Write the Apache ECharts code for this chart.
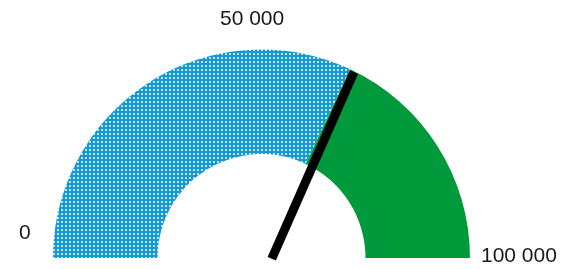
<!DOCTYPE html>
<html>
<head>
<meta charset="utf-8">
<script src="https://cdn.jsdelivr.net/npm/echarts@6/dist/echarts.min.js"></script>
<style>
    html,body{margin:0;padding:0;background:#fff;}
    #main{width:563px;height:269px;}
</style>
</head>
<body>
<div id="main"></div>
<script>
// 数据
var bandNames = ["低", "高"];
var bandValues = [64000, 36000];
var needleValue = 63200;
var axisMin = 0, axisMax = 100000;
var tickLabels = ["0", "50 000", "100 000"];

// 蓝色点状填充
function dotPattern(){
    var c = document.createElement("canvas");
    c.width = 4; c.height = 4;
    var ctx = c.getContext("2d");
    ctx.fillStyle = "#1499d4";
    ctx.fillRect(0, 0, 4, 4);
    ctx.fillStyle = "#bfe4f6";
    ctx.fillRect(1, 1, 2, 2);
    return c;
}

var cx = 261.5, cy = 258, rOut = 208.5, rIn = 104;

var option = {
    animation: false,
    graphic: [
        { type: "text", left: 19, top: 223, style: { text: tickLabels[0], font: "21px 'Liberation Sans'", fill: "#1a1a1a" } },
        { type: "text", left: 220, top: 9, style: { text: tickLabels[1], font: "21px 'Liberation Sans'", fill: "#1a1a1a" } },
        { type: "text", left: 481, top: 246, style: { text: tickLabels[2], font: "21px 'Liberation Sans'", fill: "#1a1a1a" } }
    ],
    series: [
        {
            type: "pie",
            z: 1,
            center: [cx, cy],
            radius: [rIn, rOut],
            startAngle: 180,
            endAngle: 0,
            clockwise: true,
            silent: true,
            label: { show: false },
            labelLine: { show: false },
            data: [
                { name: bandNames[0], value: bandValues[0], itemStyle: { color: { image: dotPattern(), repeat: "repeat" } } },
                { name: bandNames[1], value: bandValues[1], itemStyle: { color: "#009a3c" } }
            ]
        },
        {
            type: "gauge",
            z: 10,
            center: [cx, cy],
            radius: rOut,
            min: axisMin,
            max: axisMax,
            startAngle: 180,
            endAngle: 0,
            axisLine: { show: false },
            splitLine: { show: false },
            axisTick: { show: false },
            axisLabel: { show: false },
            anchor: { show: false },
            title: { show: false },
            detail: { show: false },
            pointer: {
                icon: "rect",
                length: 204,
                width: 9,
                offsetCenter: [9.7, -3.4],
                itemStyle: { color: "#000" }
            },
            data: [{ value: needleValue }]
        }
    ]
};

var chart = echarts.init(document.getElementById("main"));
chart.setOption(option);
</script>
</body>
</html>
